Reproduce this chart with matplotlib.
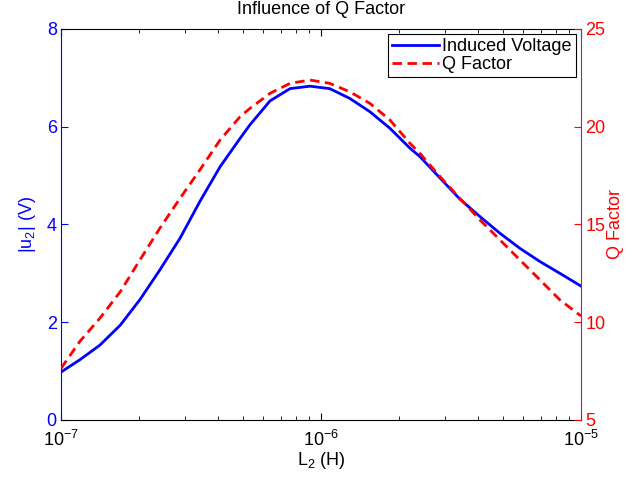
import numpy as np
import matplotlib
matplotlib.use('Agg')
from matplotlib import pyplot as plt

plt.rcParams['font.family'] = ['Liberation Sans', 'DejaVu Sans']
plt.rcParams['mathtext.fontset'] = 'custom'
plt.rcParams['mathtext.rm'] = 'Liberation Sans'
plt.rcParams['mathtext.it'] = 'Liberation Sans'

myFontSize = 13

# values
L2 = [1.00e-7, 1.18e-7, 1.41e-7, 1.69e-7, 2.01e-7, 2.40e-7, 2.87e-7, 3.42e-7,
      4.09e-7, 4.88e-7, 5.33e-7, 6.37e-7, 7.60e-7, 9.07e-7, 1.08e-6, 1.29e-6,
      1.54e-6, 1.84e-6, 2.20e-6, 2.40e-6, 2.87e-6, 3.42e-6, 4.09e-6, 4.88e-6,
      5.83e-6, 6.96e-6, 8.30e-6, 1.00e-5]
u2 = [0.98, 1.23, 1.53, 1.94, 2.46, 3.07, 3.72, 4.47,
      5.18, 5.76, 6.04, 6.53, 6.78, 6.83, 6.78, 6.58,
      6.31, 5.97, 5.56, 5.39, 4.95, 4.52, 4.16, 3.82,
      3.51, 3.24, 3.00, 2.74]
qfac = [7.64, 9.01, 10.20, 11.56, 13.18, 14.81, 16.34, 17.79,
        19.32, 20.51, 20.94, 21.71, 22.22, 22.39, 22.22, 21.79,
        21.20, 20.35, 19.15, 18.64, 17.45, 16.34, 15.23, 14.21,
        13.18, 12.16, 11.14, 10.32]

fig = plt.figure(figsize=(6.26, 4.78), dpi=100)
ax = fig.add_axes([61/626., 1-420/478., 520/626., 391/478.])
ax2 = ax.twinx()

l1, = ax.plot(L2, u2, color='b', linewidth=2, label='Induced Voltage')
l2, = ax2.plot(L2, qfac, color='r', linewidth=2, linestyle=(0, (3.4, 2.0)), label='Q Factor')

ax.set_xscale('log')
ax.set_xlim([1e-7, 1e-5])
ax.set_ylim([0, 8])
ax2.set_ylim([5, 25])
ax.set_yticks([0, 2, 4, 6, 8])
ax2.set_yticks([5, 10, 15, 20, 25])

ax.set_xlabel('L$_2$ (H)', fontsize=myFontSize, labelpad=0)
ax.set_ylabel('|u$_2$| (V)', fontsize=myFontSize, color='b', labelpad=6)
ax2.set_ylabel('Q Factor', fontsize=myFontSize, color='r', labelpad=1)
ax.set_title('Influence of Q Factor', fontsize=myFontSize, pad=11)

ax.tick_params(axis='x', which='both', direction='in', top=True, labelsize=myFontSize, pad=7)
ax.tick_params(axis='x', which='major', length=5)
ax.tick_params(axis='x', which='minor', length=3)
ax.tick_params(axis='y', direction='in', colors='b', labelsize=myFontSize, length=5, right=False, pad=3)
ax2.tick_params(axis='y', direction='in', colors='r', labelsize=myFontSize, length=5, pad=3)
ax2.tick_params(axis='x', which='both', bottom=False, top=False)

ax.spines['left'].set_color('b')
ax.spines['right'].set_visible(False)
ax2.spines['left'].set_visible(False)
ax2.spines['top'].set_visible(False)
ax2.spines['bottom'].set_visible(False)
ax2.spines['right'].set_color('#a0208c')

leg = ax2.legend([l1, l2], ['Induced Voltage', 'Q Factor'], loc='upper right',
                 fontsize=myFontSize, fancybox=False, framealpha=1, edgecolor='k',
                 borderaxespad=0.3, handlelength=2.6, handletextpad=0.2,
                 borderpad=0.2, labelspacing=0.05)
leg.get_frame().set_linewidth(0.8)

fig.savefig('out.png', dpi=100)
